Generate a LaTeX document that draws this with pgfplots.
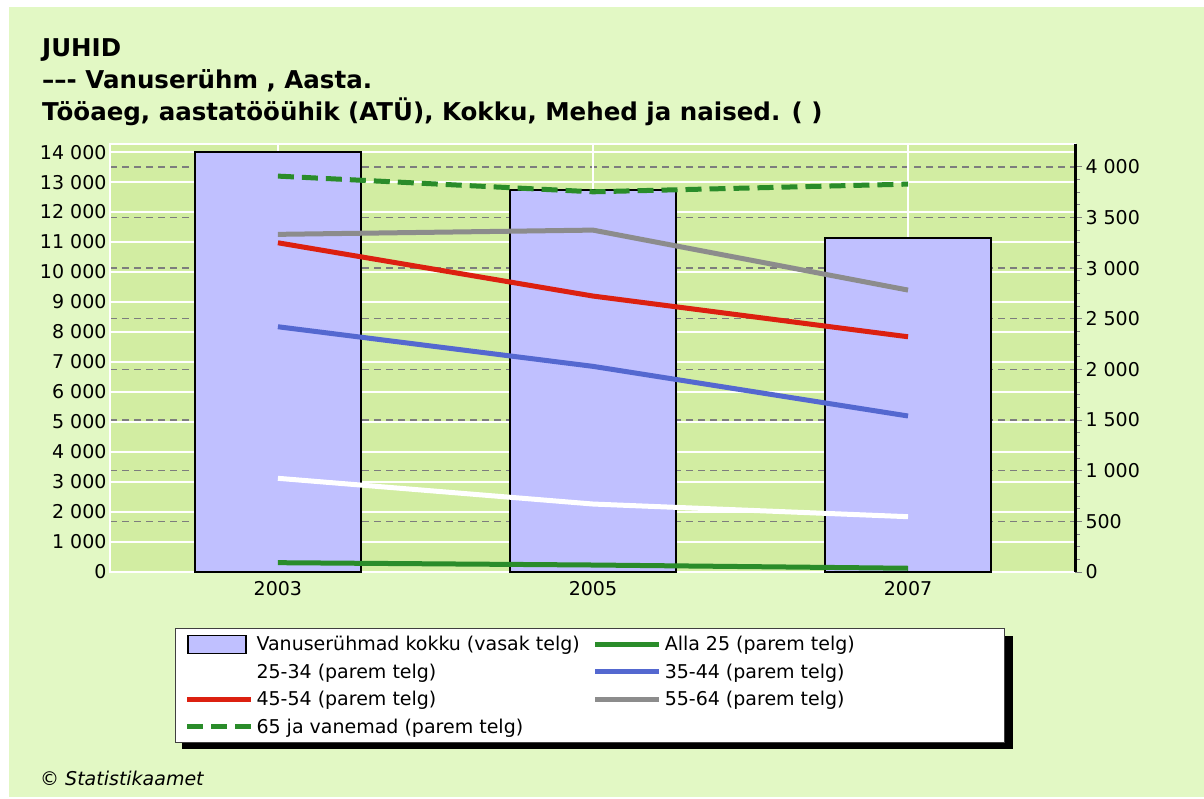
\documentclass[border=0pt]{standalone}
\usepackage{fontspec}
\setmainfont{DejaVu Sans}
\usepackage{pgfplots}
\usepackage{pgfplotstable}
\pgfplotsset{compat=1.18}

\definecolor{bgout}{RGB}{226,248,196}
\definecolor{bgplot}{RGB}{210,237,162}
\definecolor{barfill}{RGB}{192,192,255}
\definecolor{cred}{RGB}{220,32,16}
\definecolor{cblue}{RGB}{84,104,208}
\definecolor{cgray}{RGB}{140,140,140}
\definecolor{cgreen}{RGB}{42,140,42}
\definecolor{gridgray}{RGB}{125,125,125}

% x: 0=2003, 1=2005, 2=2007
\pgfplotstableread{
x bar   alla25 a2534 a3544 a4554 a5564 a65
0 13999 92     925   2421  3250  3333  3908
1 12742 69     671   2030  2724  3375  3753
2 11131 37     546   1540  2322  2783  3829
}\data

\pgfplotsset{
  base/.style={
    at={(110pt,-572pt)}, anchor=south west,
    scale only axis, width=965pt, height=428pt,
    xmin=-0.533, xmax=2.53, ymin=0,
    scaled y ticks=false,
    tick label style={font=\fontsize{19}{22}\selectfont},
    /pgf/number format/assume math mode=true,
    /pgf/number format/1000 sep={\ },
  },
}

\begin{document}
\begin{tikzpicture}
\fill[white] (0pt,0pt) rectangle (1204pt,-799pt);
\fill[bgout] (9pt,-7pt) rectangle (1204pt,-797pt);

\node[anchor=base west, inner sep=0pt, font=\fontsize{24.5}{30}\selectfont\bfseries] at (42pt,-57pt) {JUHID};
\node[anchor=base west, inner sep=0pt, font=\fontsize{24.5}{30}\selectfont\bfseries] at (42pt,-89pt) {--{}--{}- Vanuserühm , Aasta.};
\node[anchor=base west, inner sep=0pt, font=\fontsize{24.5}{30}\selectfont\bfseries] at (42pt,-121pt) {Tööaeg, aastatööühik (ATÜ), Kokku, Mehed ja naised. ( )};
\node[anchor=base west, inner sep=0pt, font=\fontsize{19}{22}\selectfont\itshape] at (40pt,-785pt) {© Statistikaamet};

% legend shadow
\fill[black] (182pt,-636pt) rectangle (1013pt,-749pt);

% background and dashed grid of the right scale
\begin{axis}[base, ymax=4225,
    axis background/.style={fill=bgplot},
    axis line style={draw=none},
    xtick=\empty, ytick={0,500,...,4000}, yticklabels={},
    major tick length=0pt,
    ymajorgrids,
    major grid style={gridgray, line width=1.5pt, dash pattern=on 7pt off 5pt},
  ]
\end{axis}

% bars on the left scale
\begin{axis}[base, ymax=14270,
    ybar, bar width=166pt,
    axis line style={white, line width=1.5pt},
    xtick={0,1,2}, xticklabels={2003,2005,2007},
    xticklabel style={yshift=-6pt},
    ytick={0,1000,...,14000},
    major tick length=0pt,
    ymajorgrids, xmajorgrids,
    major grid style={white, line width=1.5pt},
  ]
\addplot[fill=barfill, draw=black, line width=1.5pt] table[x=x,y=bar]{\data};
\end{axis}

% lines on the right scale
\begin{axis}[base, ymax=4225,
    axis x line=none,
    axis y line*=right,
    y axis line style={-, black, line width=3pt},
    ytick={0,500,...,4000},
    minor y tick num=3,
    tick align=outside,
    major tick length=7pt, minor tick length=5pt,
    ytick style={gridgray, line width=1pt},
    yticklabel style={anchor=west},
    legend image code/.code={\draw[#1] (0pt,0pt) -- (64pt,0pt);},
    legend columns=2,
    legend cell align=left,
    legend style={
      at={(axis description cs:0.0674,-0.1308)}, anchor=north west,
      draw=black!75, line width=1pt, fill=white,
      font=\fontsize{19}{22}\selectfont,
      inner xsep=9pt, inner ysep=6pt,
      row sep=7.5pt,
      nodes={inner xsep=3pt, inner ysep=2pt},
      /tikz/every even column/.append style={column sep=10pt},
    },
  ]
\addlegendimage{draw=none, legend image code/.code={\path (0pt,0pt) -- (64pt,0pt); \draw[fill=barfill, draw=black, line width=1.5pt] (1pt,-9pt) rectangle (59pt,9pt);}}
\addlegendentry{Vanuserühmad kokku (vasak telg)}
\addplot[cgreen, line width=5pt, mark=none] table[x=x,y=alla25]{\data};
\addlegendentry{\makebox[328pt][l]{Alla 25 (parem telg)}}
\addplot[white, line width=5pt, mark=none] table[x=x,y=a2534]{\data};
\addlegendentry{25-34 (parem telg)}
\addplot[cblue, line width=5pt, mark=none] table[x=x,y=a3544]{\data};
\addlegendentry{35-44 (parem telg)}
\addplot[cred, line width=5pt, mark=none] table[x=x,y=a4554]{\data};
\addlegendentry{45-54 (parem telg)}
\addplot[cgray, line width=5pt, mark=none] table[x=x,y=a5564]{\data};
\addlegendentry{55-64 (parem telg)}
\addplot[cgreen, line width=5pt, mark=none, dash pattern=on 16pt off 8pt] table[x=x,y=a65]{\data};
\addlegendentry{65 ja vanemad (parem telg)}
\end{axis}
\end{tikzpicture}
\end{document}
